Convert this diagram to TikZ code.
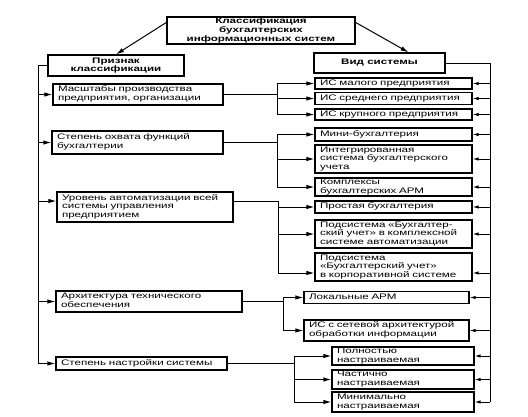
\documentclass[tikz,border=0pt]{standalone}
\usepackage{fontspec}
\setmainfont{Liberation Sans}[FakeStretch=1.45]
\usetikzlibrary{arrows.meta,calc}
\newcommand\bt[1]{\begin{tabular}{@{}l@{}}#1\end{tabular}}
\begin{document}
\begin{tikzpicture}[x=1pt,y=-1pt,
  bx/.style={draw, line width=1.2pt, fill=white, inner xsep=5pt, inner ysep=0pt,
             align=left, font=\fontsize{8}{8.6}\selectfont},
  tb/.style={draw, line width=1.2pt, fill=white, inner sep=0pt, align=center,
             font=\fontsize{8}{8.6}\selectfont\bfseries},
  ln/.style={line width=1pt},
  arr/.style={ln, -{Latex[length=8pt,width=4.5pt]}},
  arrs/.style={ln, -{Latex[length=6pt,width=3.5pt]}}]
\useasboundingbox[fill=white] (0,0) rectangle (528,416);

% title boxes
\node[tb, minimum width=188pt, minimum height=27pt] (top) at (261,30.5)
  {Классификация\\бухгалтерских\\информационных систем};
\node[tb, minimum width=136pt, minimum height=21pt] (prizn) at (116,65.5)
  {Признак\\классификации};
\node[tb, minimum width=131pt, minimum height=20pt] (vid) at (379.5,63)
  {Вид системы};

% left boxes
\node[bx, text width=160pt, minimum height=21pt] (masht) at (138,94.5)
  {\bt{Масштабы производства\\предприятия, организации}};
\node[bx, text width=161pt, minimum height=23pt] (ohvat) at (137.5,142.5)
  {\bt{Степень охвата функций\\бухгалтерии}};
\node[bx, text width=166pt, minimum height=30pt] (uroven) at (145,207)
  {\bt{Уровень автоматизации всей\\системы управления\\предприятием}};
\node[bx, text width=176pt, minimum height=21pt] (arch) at (149,301.5)
  {\bt{Архитектура технического\\обеспечения}};
\node[bx, text width=161pt, minimum height=13pt] (nastr) at (141.5,363.5)
  {\bt{Степень настройки системы}};

% right boxes
\node[bx, text width=147pt, minimum height=11pt] (r1) at (393.5,83.5) {\bt{ИС малого предприятия}};
\node[bx, text width=147pt, minimum height=12pt] (r2) at (393.5,98.5) {\bt{ИС среднего предприятия}};
\node[bx, text width=147pt, minimum height=11pt] (r3) at (393.5,114.5) {\bt{ИС крупного предприятия}};
\node[bx, text width=147pt, minimum height=13pt] (r4) at (393.5,134.5) {\bt{Мини-бухгалтерия}};
\node[bx, text width=147pt, minimum height=28pt] (r5) at (393.5,159)
  {\bt{Интегрированная\\система бухгалтерского\\учета}};
\node[bx, text width=147pt, minimum height=18pt] (r6) at (393.5,187)
  {\bt{Комплексы\\бухгалтерских АРМ}};
\node[bx, text width=147pt, minimum height=12pt] (r7) at (393.5,207) {\bt{Простая бухгалтерия}};
\node[bx, text width=147pt, minimum height=28pt] (r8) at (393.5,234)
  {\bt{Подсистема «Бухгалтер-\\ский учет» в комплексной\\системе автоматизации}};
\node[bx, text width=147pt, minimum height=28pt] (r9) at (393.5,267)
  {\bt{Подсистема\\«Бухгалтерский учет»\\в корпоративной системе}};
\node[bx, text width=155pt, minimum height=12pt] (r10) at (386.5,297.5) {\bt{Локальные АРМ}};
\node[bx, text width=155pt, minimum height=21pt] (r11) at (386.5,330.5)
  {\bt{ИС с сетевой архитектурой\\обработки информации}};
\node[bx, text width=132pt, minimum height=18pt] (r12) at (403,356)
  {\bt{Полностью\\настраиваемая}};
\node[bx, text width=132pt, minimum height=19pt] (r13) at (403,379.5)
  {\bt{Частично\\настраиваемая}};
\node[bx, text width=132pt, minimum height=20pt] (r14) at (403,402)
  {\bt{Минимально\\настраиваемая}};

% bus coordinates
\coordinate (LB) at (38,0);
\coordinate (RB) at (490,0);
\coordinate (J1) at (277,0);
\coordinate (J2) at (277,0);
\coordinate (J3) at (278,0);
\coordinate (J4) at (283,0);
\coordinate (J5) at (294,0);

% top arrows
\draw[arr] ($(top.north west)+(0,6)$) -- (prizn.north);
\draw[arr] ($(top.north east)+(0,6)$) -- ($(vid.north east)+(-37,0)$);

% left bus
\draw[ln] (prizn.west) -| (LB |- nastr.west);
\foreach \b in {masht,ohvat,arch,nastr}
  \draw[arr] (LB |- \b.west) -- (\b.west);
\draw[arr] ($(LB |- uroven.west)+(0,-6)$) -- ($(uroven.west)+(0,-6)$);

% right bus
\draw[ln] (vid.east) -| (RB |- r14.east);
\foreach \b in {r1,r2,r3,r4,r5,r6,r7,r8,r10,r11,r12,r13,r14}
  \draw[arrs] (RB |- \b.east) -- (\b.east);
\draw[arrs] ($(RB |- r9.east)+(0,6)$) -- ($(r9.east)+(0,6)$);

% group 1
\draw[ln] (masht.east) -- (J1 |- masht.east);
\draw[ln] (J1 |- r1.west) -- (J1 |- r3.west);
\foreach \b in {r1,r2,r3}
  \draw[arr] (J1 |- \b.west) -- (\b.west);

% group 2
\draw[ln] (ohvat.east) -- (J2 |- ohvat.east);
\draw[ln] (J2 |- r4.west) -- (J2 |- r6.west);
\foreach \b in {r4,r5,r6}
  \draw[arr] (J2 |- \b.west) -- (\b.west);

% group 3
\draw[ln] ($(uroven.east)+(0,-6)$) -- ($(J3 |- uroven.east)+(0,-6)$)
  -- ($(J3 |- r9.west)+(0,6)$);
\foreach \b in {r7,r8}
  \draw[arr] (J3 |- \b.west) -- (\b.west);
\draw[arr] ($(J3 |- r9.west)+(0,6)$) -- ($(r9.west)+(0,6)$);

% group 4
\draw[ln] (arch.east) -- (J4 |- arch.east);
\draw[ln] (J4 |- r10.west) -- (J4 |- r11.west);
\foreach \b in {r10,r11}
  \draw[arr] (J4 |- \b.west) -- (\b.west);

% group 5
\draw[ln] (nastr.east) -- (J5 |- nastr.east);
\draw[ln] (J5 |- r12.west) -- (J5 |- r14.west);
\foreach \b in {r12,r13,r14}
  \draw[arr] (J5 |- \b.west) -- (\b.west);
\end{tikzpicture}
\end{document}
